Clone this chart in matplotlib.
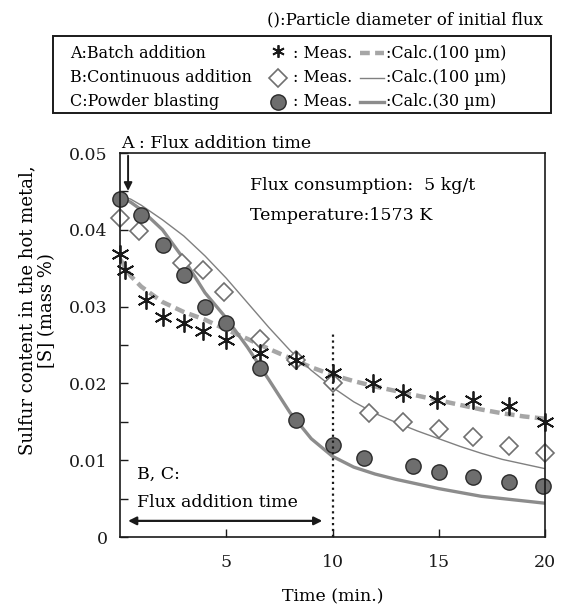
import matplotlib
matplotlib.use('Agg')
import matplotlib.pyplot as plt
from matplotlib.lines import Line2D
from matplotlib.patches import Rectangle

plt.rcParams['font.family'] = ['DejaVu Serif']

# measured values (min, mass %)
t_a = [0, 0.25, 1.2, 2.0, 3.0, 3.9, 5.0, 6.6, 8.3, 10.0, 11.9, 13.3, 14.9, 16.6, 18.3, 20.0]
s_a = [0.0368, 0.0348, 0.0309, 0.0287, 0.0278, 0.0268, 0.0257, 0.0239, 0.0230, 0.0213, 0.0200,
       0.0188, 0.0179, 0.0178, 0.0170, 0.0150]
t_b = [0, 0.9, 2.9, 3.9, 4.9, 6.6, 8.3, 10.0, 11.7, 13.3, 15.0, 16.6, 18.3, 20.0]
s_b = [0.0416, 0.0399, 0.0357, 0.0348, 0.0319, 0.0258, 0.0230, 0.0201, 0.0161, 0.0150, 0.0140,
       0.0130, 0.0118, 0.0109]
t_c = [0, 1.0, 2.0, 3.0, 4.0, 5.0, 6.6, 8.3, 10.0, 11.5, 13.8, 15.0, 16.6, 18.3, 19.9]
s_c = [0.0440, 0.0419, 0.0380, 0.0341, 0.0300, 0.0279, 0.0220, 0.0152, 0.0120, 0.0103, 0.0092,
       0.0085, 0.0078, 0.0071, 0.0066]

# calculated curves
t_calc = [0, 0.5, 1, 2, 3, 4, 5, 6, 7, 8, 9, 10, 11, 12, 13, 14, 15, 16, 17, 18, 19, 20]
calc_a = [0.0362, 0.0340, 0.0326, 0.0306, 0.0293, 0.0283, 0.0270, 0.0258, 0.0245, 0.0233, 0.0221,
          0.0211, 0.0203, 0.0196, 0.0190, 0.0184, 0.0178, 0.0172, 0.0166, 0.0161, 0.0157, 0.0154]
calc_b = [0.0444, 0.0440, 0.0432, 0.0413, 0.0392, 0.0366, 0.0337, 0.0305, 0.0273, 0.0243, 0.0217,
          0.0195, 0.0176, 0.0161, 0.0149, 0.0138, 0.0128, 0.0118, 0.0109, 0.0101, 0.0095, 0.0089]
calc_c = [0.0442, 0.0436, 0.0426, 0.0400, 0.0362, 0.0318, 0.0285, 0.0247, 0.0205, 0.0162, 0.0128,
          0.0105, 0.0091, 0.0082, 0.0075, 0.0069, 0.0063, 0.0058, 0.0053, 0.0050, 0.0047, 0.0044]

star = (6, 2, 0)
dash_style = dict(ls=(0, (2.2, 1.2)), lw=3.2, c='#a6a6a6')
thin_style = dict(lw=1.0, c='#808080')
thick_style = dict(lw=2.4, c='#8c8c8c')
star_style = dict(ls='none', marker=star, mec='#1a1a1a', mew=1.3)
dia_style = dict(ls='none', marker='D', mfc='white', mec='#707070', mew=1.2)
dot_style = dict(ls='none', marker='o', mfc='#6e6e6e', mec='#2a2a2a', mew=1.0)

fig = plt.figure(figsize=(5.62, 6.11), dpi=100)
ax = fig.add_axes([120 / 562, 1 - 537 / 611, 425 / 562, 384 / 611])

ax.plot(t_calc, calc_a, **dash_style)
ax.plot(t_calc, calc_b, **thin_style)
ax.plot(t_calc, calc_c, **thick_style)

ax.plot(t_b, s_b, ms=9, clip_on=False, **dia_style)
ax.plot(t_a, s_a, ms=13, clip_on=False, **star_style)
ax.plot(t_c, s_c, ms=11, clip_on=False, **dot_style)

ax.plot([10, 10], [0, 0.0266], ls=':', lw=1.6, c='#1a1a1a')

ax.set_xlim(0, 20)
ax.set_ylim(0, 0.05)
ax.set_xticks([5, 10, 15, 20])
ax.set_xticklabels(['5', '10', '15', '20'])
ax.set_yticks([0, 0.01, 0.02, 0.03, 0.04, 0.05])
ax.set_yticklabels(['0', '0.01', '0.02', '0.03', '0.04', '0.05'])
ax.set_yticks([0.005, 0.015, 0.025, 0.035, 0.045], minor=True)
ax.tick_params(which='both', direction='in', labelsize=12.5, colors='#1a1a1a', length=6, width=1)
ax.tick_params(axis='x', pad=12)
ax.tick_params(axis='y', pad=9)
for sp in ax.spines.values():
    sp.set_linewidth(1.2)
    sp.set_color('#1a1a1a')

ax.set_xlabel('Time (min.)', fontsize=12.5)
ax.xaxis.set_label_coords(0.5, -0.135)
ax.set_ylabel('Sulfur content in the hot metal,\n[S] (mass %)', fontsize=13, linespacing=1.1)
ax.yaxis.set_label_coords(-0.15, 0.59)

ax.text(0.05, 0.0512, 'A : Flux addition time', fontsize=12.5, ha='left', va='center')
ax.annotate('', xy=(0.38, 0.0447), xytext=(0.38, 0.050),
            arrowprops=dict(arrowstyle='-|>', lw=1.4, color='#1a1a1a', mutation_scale=12))
ax.annotate('', xy=(0.25, 0.0021), xytext=(9.65, 0.0021),
            arrowprops=dict(arrowstyle='<|-|>', lw=1.6, color='#1a1a1a', mutation_scale=12))
ax.text(0.8, 0.0081, 'B, C:', fontsize=12.5, va='center')
ax.text(0.8, 0.0045, 'Flux addition time', fontsize=12.5, va='center')
ax.text(6.1, 0.0458, 'Flux consumption:  5 kg/t', fontsize=12.5, va='center')
ax.text(6.1, 0.0418, 'Temperature:1573 K', fontsize=12.5, va='center')

# legend table above the axes
W, H = 562.0, 611.0
def fx(px):
    return px / W
def fy(py):
    return 1 - py / H

fig.text(fx(543), fy(20), '():Particle diameter of initial flux', fontsize=12, ha='right', va='center')
fig.patches.append(Rectangle((fx(53), fy(113)), fx(551) - fx(53), fy(36) - fy(113),
                             transform=fig.transFigure, fill=False, lw=1.4, ec='#1a1a1a'))
rows = [53, 78, 102]
methods = ['A:Batch addition', 'B:Continuous addition', 'C:Powder blasting']
calc_txt = [':Calc.(100 \u00b5m)', ':Calc.(100 \u00b5m)', ':Calc.(30 \u00b5m)']
for r, m, c in zip(rows, methods, calc_txt):
    fig.text(fx(70), fy(r), m, fontsize=11.5, va='center')
    fig.text(fx(293), fy(r), ': Meas.', fontsize=11.5, va='center')
    fig.text(fx(386), fy(r), c, fontsize=11.5, va='center')

samples = [(star_style, 9, dash_style), (dia_style, 9, thin_style), (dot_style, 11, thick_style)]
for r, (mk, ms, ln) in zip(rows, samples):
    fig.lines.append(Line2D([fx(278)], [fy(r - 2 if mk is star_style else r)], ms=ms,
                            transform=fig.transFigure, **mk))
    fig.lines.append(Line2D([fx(360), fx(384)], [fy(r), fy(r)], transform=fig.transFigure, **ln))

fig.savefig('out.png', dpi=100)
